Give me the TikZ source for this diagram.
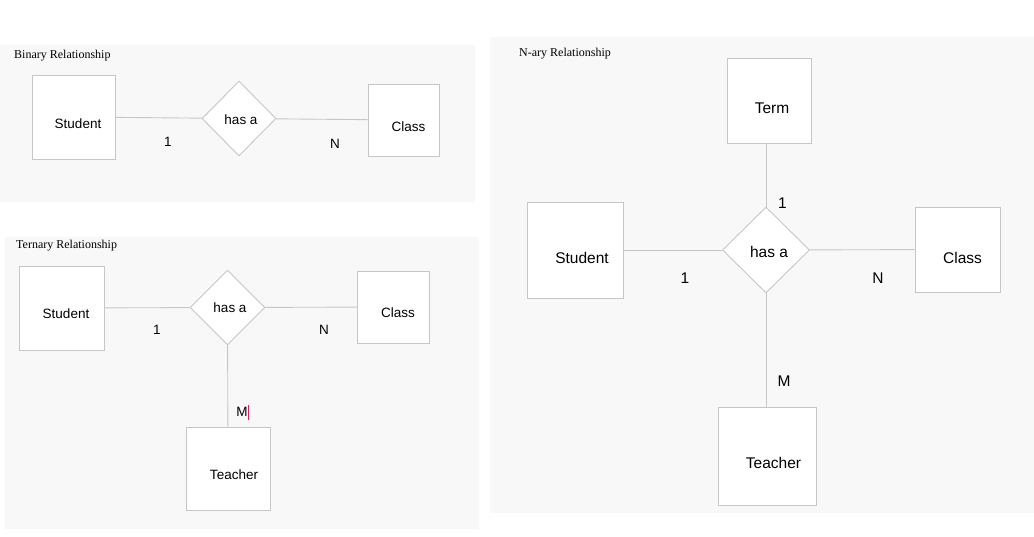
\documentclass[tikz,border=0pt]{standalone}
\usepackage{fontspec}
\setmainfont{Liberation Serif}
\setsansfont{Liberation Sans}
\usetikzlibrary{shapes.geometric}
\definecolor{panelgray}{HTML}{F8F8F8}
\definecolor{linegray}{HTML}{C6C6C6}
\definecolor{cursorred}{HTML}{D81B60}

\begin{document}
\begin{tikzpicture}[x=1pt, y=-1pt]
    \tikzstyle{entity} = [draw=linegray, fill=white, line width=0.9pt, inner sep=0pt]
    \tikzstyle{relation} = [draw=linegray, fill=white, line width=0.9pt, diamond,
	inner sep=0pt]
    \tikzstyle{card} = [font=\sffamily\fontsize{13.5}{15}\selectfont, inner sep=0pt]
    \tikzstyle{bigcard} = [font=\sffamily\fontsize{15.5}{17}\selectfont, inner sep=0pt]
    \tikzstyle{title} = [font=\rmfamily\fontsize{12}{14}\selectfont, anchor=west,
	inner sep=0pt]
    \tikzstyle{link} = [draw=linegray, line width=0.9pt]

	\useasboundingbox (0,0) rectangle (1034,537);
	\fill[white] (0,0) rectangle (1034,537);
	\fill[panelgray] (0,45) rectangle (475,202);
	\fill[panelgray] (5,237) rectangle (479,529);
	\fill[panelgray] (490,37) rectangle (1034,513);

	% binary
	\begin{scope}
		\path
			node[title] (bTitle) at (14,56) {Binary Relationship}
			node[entity, minimum width=83pt, minimum height=84pt,
				label={[card, xshift=4.5pt, yshift=-6.5pt]center:Student}] (bS) at (73.5,117) {}
			node[relation, minimum width=74pt, minimum height=75pt,
				label={[card, xshift=2pt, yshift=-1pt]center:has a}] (bR) at (239,118.5) {}
			node[entity, minimum width=71pt, minimum height=72pt,
				label={[card, xshift=5pt, yshift=-7pt]center:Class}] (bC) at (403.5,120) {}

			node[card] (b1) at (168,142) {1}
			node[card] (bN) at (335,144) {N}

			(bS) edge[link] (bR)
			(bR) edge[link] (bC)
		;
	\end{scope}

	% ternary
	\begin{scope}
		\path
			node[title] (tTitle) at (16,246) {Ternary Relationship}
			node[entity, minimum width=85pt, minimum height=84pt,
				label={[card, xshift=4.5pt, yshift=-6pt]center:Student}] (tS) at (61.5,308) {}
			node[relation, minimum width=75pt, minimum height=75pt,
				label={[card, xshift=2.5pt, yshift=-0.5pt]center:has a}] (tR) at (227.5,307.5) {}
			node[entity, minimum width=72pt, minimum height=72pt,
				label={[card, xshift=5pt, yshift=-6pt]center:Class}] (tC) at (393,307) {}
			node[entity, minimum width=84pt, minimum height=83pt,
				label={[card, xshift=6pt, yshift=-6.5pt]center:Teacher}] (tT) at (228,468.5) {}

			node[card] (t1) at (157,330) {1}
			node[card] (tN) at (324,330) {N}
			node[card] (tM) at (242.3,412) {M\textcolor{cursorred}{\rule[-3pt]{0.7pt}{15pt}}}

			(tS) edge[link] (tR)
			(tR) edge[link] (tC)
			(tR) edge[link] (tT)
		;
	\end{scope}

	% n-ary
	\begin{scope}
		\path
			node[title] (nTitle) at (519,54) {N-ary Relationship}
			node[entity, minimum width=84pt, minimum height=85pt,
				label={[bigcard, xshift=3pt, yshift=-8pt]center:Term}] (nT) at (769,100.7) {}
			node[entity, minimum width=96pt, minimum height=96pt,
				label={[bigcard, xshift=7pt, yshift=-8pt]center:Student}] (nS) at (575,250) {}
			node[relation, minimum width=87pt, minimum height=86pt,
				label={[bigcard, xshift=3pt, yshift=-1.5pt]center:has a}] (nR) at (766,250) {}
			node[entity, minimum width=85pt, minimum height=85pt,
				label={[bigcard, xshift=5pt, yshift=-8pt]center:Class}] (nC) at (957.5,249.5) {}
			node[entity, minimum width=98pt, minimum height=98pt,
				label={[bigcard, xshift=6.5pt, yshift=-7pt]center:Teacher}] (nTe) at (767,456) {}

			node[bigcard] (n1a) at (782.5,203) {1}
			node[bigcard] (n1b) at (685,278) {1}
			node[bigcard] (nN) at (878,278) {N}
			node[bigcard] (nM) at (784,381) {M}

			(nS) edge[link] (nR)
			(nR) edge[link] (nC)
			(nR.north) edge[link] (nR.north |- nT.south)
			(nR.south) edge[link] (nR.south |- nTe.north)
		;
	\end{scope}
\end{tikzpicture}
\end{document}
